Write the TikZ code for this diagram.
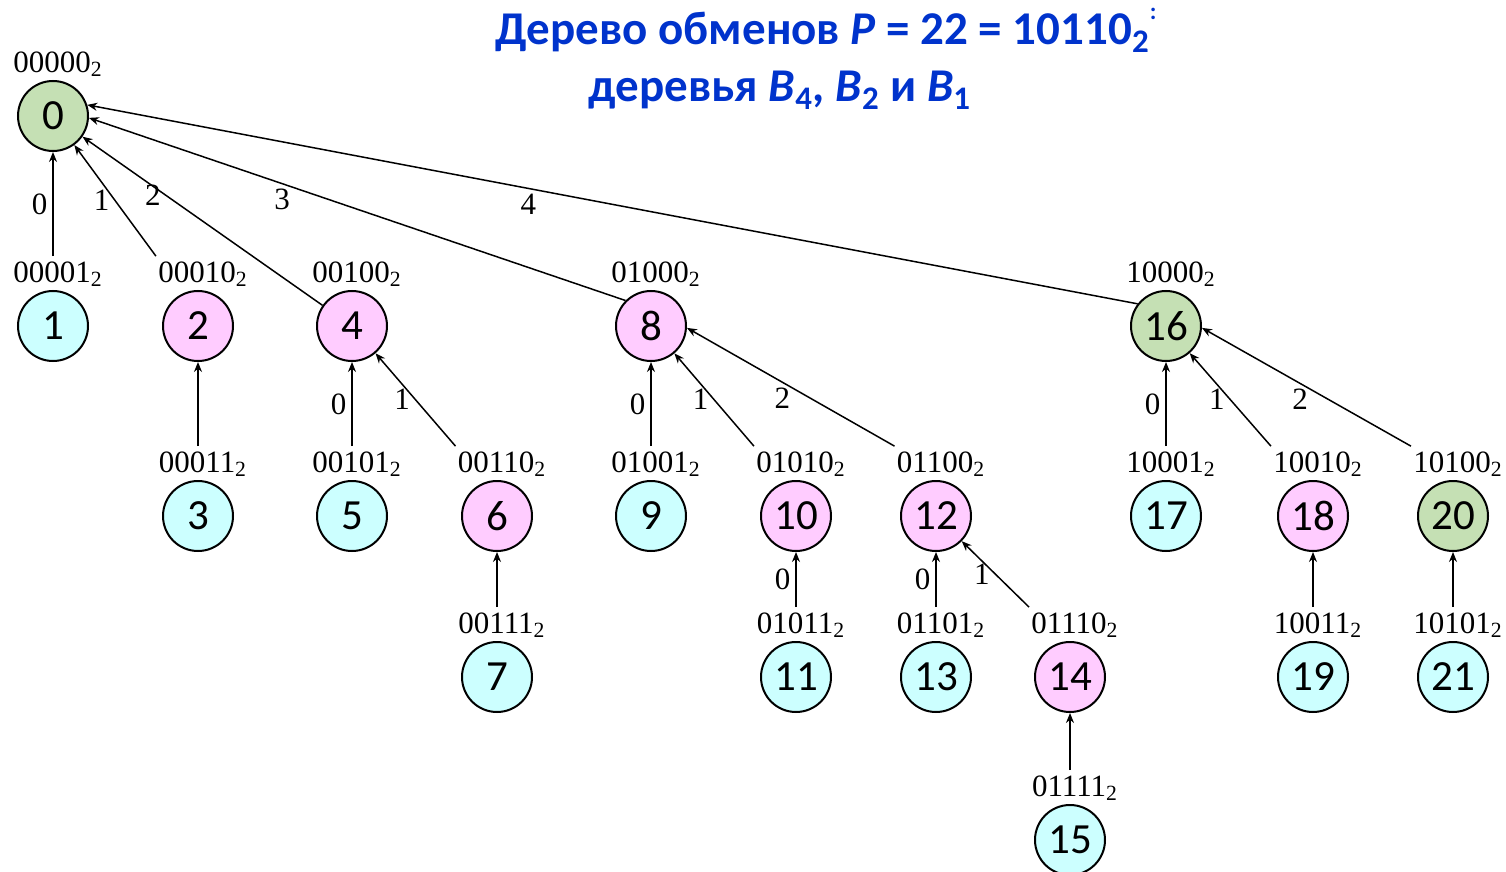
\documentclass[tikz,border=0pt]{standalone}
\usepackage{fontspec}
\setmainfont{Liberation Serif}
\newfontfamily\numfont{Carlito}
\usetikzlibrary{positioning,arrows.meta}

\definecolor{rootgreen}{RGB}{197,224,180}
\definecolor{midpink}{RGB}{255,204,255}
\definecolor{leafcyan}{RGB}{204,255,255}
\definecolor{titleblue}{RGB}{0,51,204}

\tikzset{
    vtx/.style={circle, draw, line width=1pt, minimum size=35pt, inner sep=0pt,
        font=\numfont\fontsize{21.5}{24}\selectfont},
    bin/.style={font=\fontsize{15.5}{18}\selectfont, inner xsep=1pt, inner ysep=2.5pt},
    elab/.style={font=\fontsize{15.5}{18}\selectfont, inner sep=2.5pt},
    edge/.style={-{Stealth[length=5pt,width=4pt]}, line width=0.75pt},
    ttl/.style={anchor=base, text=titleblue, font=\numfont\bfseries\fontsize{23.5}{28}\selectfont},
}

\begin{document}
\begin{tikzpicture}[x=0.5pt, y=-0.5pt]
    \useasboundingbox (0,0) rectangle (1506,872);

    % 标题
    \node[ttl] (t1) at (826,45)
        {Дерево обменов \textit{P} = 22 = 10110\textsubscript{2}\raisebox{1.1ex}{\fontsize{12}{14}\selectfont :}};
    \node[ttl] (t2) at (780,102)
        {деревья \textit{B}\textsubscript{4}, \textit{B}\textsubscript{2} и \textit{B}\textsubscript{1}};

    % 绘制所有顶点及其二进制编号
    \foreach \n/\x/\y/\c/\b in {
        0/53/116/rootgreen/00000,
        1/53/326/leafcyan/00001, 2/198/326/midpink/00010, 4/352/326/midpink/00100,
        8/651/326/midpink/01000, 16/1166/326/rootgreen/10000,
        3/198/516/leafcyan/00011, 5/352/516/leafcyan/00101, 6/497/516/midpink/00110,
        9/651/516/leafcyan/01001, 10/796/516/midpink/01010, 12/936/516/midpink/01100,
        17/1166/516/leafcyan/10001, 18/1313/516/midpink/10010, 20/1453/516/rootgreen/10100,
        7/497/677/leafcyan/00111, 11/796/677/leafcyan/01011, 13/936/677/leafcyan/01101,
        14/1070/677/midpink/01110, 19/1313/677/leafcyan/10011, 21/1453/677/leafcyan/10101,
        15/1070/840/leafcyan/01111%
    } {
        \node[vtx, fill=\c] (n\n) at (\x,\y) {\n};
        \node[bin, above=-1pt of n\n, xshift=2.5pt] (l\n) {\b\textsubscript{2}};
    }

    % 指向根 0 的边
    \draw[edge] (n1 |- l1.north) -- node[elab, left] {0} (n0);
    \draw[edge] (l2.north west) -- node[elab, left] {1} (n0);
    \draw[edge] (n4.145) -- node[elab, pos=0.65, left] {2} (n0);
    \draw[edge] (n8.135) -- node[elab, pos=0.64, below] {3} (n0.-3);
    \draw[edge] (n16.142) -- node[elab, pos=0.58, below] {4} (n0.18);

    % 第二层的边
    \draw[edge] (n5 |- l5.north) -- node[elab, left] {0} (n4);
    \draw[edge] (l6.north west) -- node[elab, left] {1} (n4);
    \draw[edge] (n9 |- l9.north) -- node[elab, left] {0} (n8);
    \draw[edge] (l10.north west) -- node[elab, left] {1} (n8);
    \draw[edge] (l12.north west) -- node[elab, pos=0.54, below] {2} (n8.-3);
    \draw[edge] (n17 |- l17.north) -- node[elab, left] {0} (n16);
    \draw[edge] (l18.north west) -- node[elab, left] {1} (n16);
    \draw[edge] (l20.north west) -- node[elab, pos=0.53, below] {2} (n16.-3);

    % 第三层的边
    \draw[edge] (n11 |- l11.north) -- node[elab, left] {0} (n10);
    \draw[edge] (n13 |- l13.north) -- node[elab, left] {0} (n12);
    \draw[edge] (l14.north west) -- node[elab, left] {1} (n12);

    % 无编号的竖直边
    \foreach \c/\p in {3/2, 7/6, 19/18, 21/20, 15/14}
        \draw[edge] (n\c |- l\c.north) -- (n\p);
\end{tikzpicture}
\end{document}
